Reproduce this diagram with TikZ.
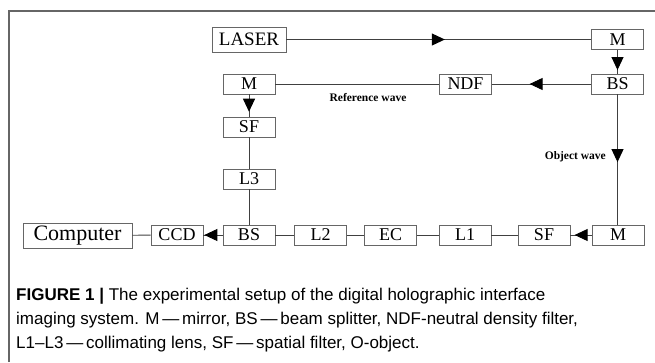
\documentclass[tikz,border=0pt]{standalone}
\usepackage{fontspec}
\setmainfont{Liberation Serif}
\newfontfamily\capfont{Liberation Sans}
\usetikzlibrary{arrows.meta,decorations.markings}

\begin{document}
\begin{tikzpicture}[
  x=1pt, y=-1pt,
  every node/.style={font=\fontsize{18}{18}\selectfont, inner sep=0pt},
  part/.style={draw=black!60, line width=0.8pt, fill=white, minimum width=52pt, minimum height=20pt},
  beam/.style={draw=black!75, line width=0.9pt},
  flow/.style={beam, postaction={decorate},
    decoration={markings, mark=at position #1 with {\arrow[black]{Triangle[length=13pt,width=12pt]}}}},
  wave/.style={font=\fontsize{11.5}{11.5}\selectfont\bfseries}
]
\useasboundingbox (0,0) rectangle (655,362);
\draw[black!60, line width=1.5pt] (9,362) -- (9,11) -- (655,11);

% top row
\node[part, minimum width=74pt, minimum height=25pt, font=\fontsize{19}{19}\selectfont] (laser) at (249,39.5) {LASER};
\node[part] (mirrorA) at (617.5,39.5) {M};

% reference arm
\node[part] (bsA) at (617.5,84) {BS};
\node[part] (ndf) at (465.5,84) {NDF};
\node[part] (mirrorB) at (249,84) {M};
\node[part] (sfA) at (249,127) {SF};
\node[part] (lensC) at (249,179) {L3};

% bottom row
\node[part] (bsB) at (249,235) {BS};
\node[part] (lensB) at (320.5,235) {L2};
\node[part] (ec) at (390.5,235) {EC};
\node[part] (lensA) at (465,235) {L1};
\node[part] (sfB) at (544,235) {SF};
\node[part] (mirrorC) at (618,235) {M};
\node[part] (ccd) at (177,235) {CCD};
\node[part, minimum width=109pt, minimum height=25pt, font=\fontsize{22}{22}\selectfont] (computer) at (77.5,235.5) {Computer};

\draw[flow=0.52] (laser) -- (mirrorA);
\draw[flow=0.85] (mirrorA) -- (bsA);
\draw[flow=0.62] (bsA) -- (ndf);
\draw[beam] (ndf) -- (mirrorB);
\draw[flow=0.78] (mirrorB) -- (sfA);
\draw[beam] (sfA) -- (lensC);
\draw[beam] (lensC) -- (bsB);
\draw[flow=0.52] (bsA.south) -- (bsA.south |- mirrorC.north);
\draw[flow=0.8] (mirrorC) -- (sfB);
\draw[beam] (sfB) -- (lensA);
\draw[beam] (lensA) -- (ec);
\draw[beam] (ec) -- (lensB);
\draw[beam] (lensB) -- (bsB);
\draw[flow=0.95] (bsB) -- (ccd);
\draw[beam] (ccd) -- (computer);

\node[wave] (refwave) at (368,98) {Reference wave};
\node[wave, anchor=east] (objwave) at (606,157) {Object wave};

\node[anchor=north west, align=left, font=\capfont\fontsize{17}{24}\selectfont] (caption) at (16,288)
  {\textbf{FIGURE 1 |} The experimental setup of the digital holographic interface\\
   imaging system. M\,—\,mirror, BS\,—\,beam splitter, NDF-neutral density filter,\\
   L1–L3\,—\,collimating lens, SF\,—\,spatial filter, O-object.};
\end{tikzpicture}
\end{document}
